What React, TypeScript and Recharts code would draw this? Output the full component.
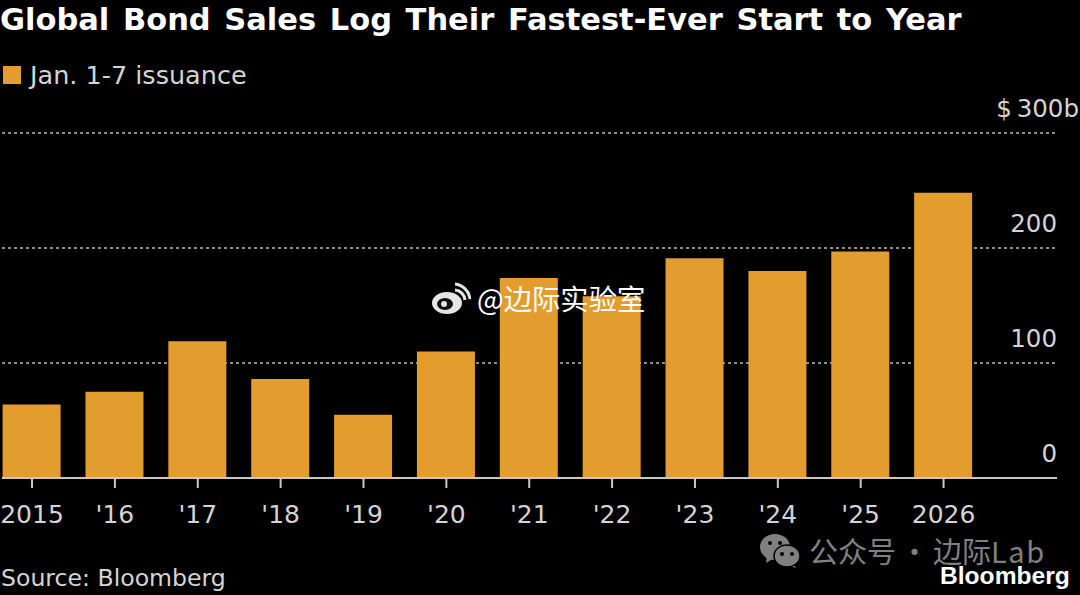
import React from 'react';
import { BarChart, Bar, XAxis, YAxis, CartesianGrid, Legend } from 'recharts';

const years = ['2015', "'16", "'17", "'18", "'19", "'20", "'21", "'22", "'23", "'24", "'25", '2026'];
const issuance = [64, 75, 119, 86, 55, 110, 174, 158, 191, 180, 197, 248];
const yTicks = [0, 100, 200, 300];

const chartData = years.map((year, i) => ({ year, issuance: issuance[i] }));

const FONT = '"DejaVu Sans", sans-serif';
const CJK = '"Noto Sans CJK SC", sans-serif';
const ORANGE = '#E39C2E';
const LABEL = '#d4d4d4';

// y labels sit above their gridline, the top one carries the unit
const YTick = ({ y, payload }: any) => {
  const top = payload.value === 300;
  return (
    <text x={top ? 1079 : 1057} y={y - 16} textAnchor="end" fill={LABEL} fontSize={24.5} fontFamily={FONT}>
      {top ? '$\u2009300b' : payload.value}
    </text>
  );
};

const LegendKey = ({ payload }: any) => (
  <div style={{ display: 'flex', alignItems: 'center', height: 34 }}>
    {(payload || []).map((item: any) => (
      <React.Fragment key={item.value}>
        <span style={{ width: 18, height: 18, background: item.color, marginRight: 9 }} />
        <span style={{ color: LABEL, fontSize: 25.5, fontFamily: FONT, whiteSpace: 'nowrap' }}>{item.value}</span>
      </React.Fragment>
    ))}
  </div>
);

const App: React.FC = () => {
  return (
    <div style={{ position: 'fixed', left: 0, top: 0, width: 1080, height: 595, background: '#000', overflow: 'hidden' }}>
      <div style={{ position: 'absolute', left: 0, top: 0, color: '#fff', fontFamily: FONT, fontWeight: 700, fontSize: 30.5, wordSpacing: 3, lineHeight: '40px', whiteSpace: 'nowrap' }}>
        Global Bond Sales Log Their Fastest-Ever Start to Year
      </div>

      <BarChart
        width={1080}
        height={595}
        data={chartData}
        margin={{ top: 99, right: 0, bottom: 0, left: 2 }}
        style={{ position: 'absolute', left: 0, top: 0 }}
      >
        <CartesianGrid vertical={false} stroke="#8c8c8c" strokeWidth={2} strokeDasharray="3 3" />
        <XAxis
          dataKey="year"
          height={117}
          padding={{ left: -11.4, right: 72 }}
          stroke="#c8c8c8"
          strokeWidth={2}
          tickSize={10}
          tickMargin={17}
          interval={0}
          tick={{ fill: LABEL, fontSize: 25, fontFamily: FONT }}
        />
        <YAxis orientation="right" width={23} domain={[0, 300]} ticks={yTicks} axisLine={false} tickLine={false} tick={YTick} />
        <Legend
          verticalAlign="top"
          align="left"
          wrapperStyle={{ left: 3, top: 58, width: 400, height: 34 }}
          content={LegendKey}
        />
        <Bar name="Jan. 1-7 issuance" dataKey="issuance" fill={ORANGE} barSize={58} isAnimationActive={false} />
      </BarChart>

      <div style={{ position: 'absolute', left: 1, top: 563, color: LABEL, fontFamily: FONT, fontSize: 23.6, lineHeight: '30px', whiteSpace: 'nowrap' }}>
        Source: Bloomberg
      </div>
      <div style={{ position: 'absolute', left: 940, top: 566, color: '#fff', fontFamily: '"Liberation Sans", sans-serif', fontWeight: 700, fontSize: 24.6, lineHeight: '20px', whiteSpace: 'nowrap' }}>
        Bloomberg
      </div>

      {/* weibo watermark */}
      <svg width={40} height={36} style={{ position: 'absolute', left: 431, top: 281 }}>
        <ellipse cx={16} cy={22} rx={15} ry={11} fill="#e6e6e6" />
        <ellipse cx={14} cy={23} rx={8} ry={6} fill="#111" />
        <circle cx={13} cy={23} r={3} fill="#e6e6e6" />
        <path d="M24 9 A11 11 0 0 1 34 19" stroke="#e6e6e6" strokeWidth={3} fill="none" />
        <path d="M24 3 A17 17 0 0 1 39 18" stroke="#e6e6e6" strokeWidth={3} fill="none" />
      </svg>
      <div style={{ position: 'absolute', left: 477, top: 280, color: '#fff', fontFamily: CJK, fontSize: 28.3, lineHeight: '36px', whiteSpace: 'nowrap' }}>
        @边际实验室
      </div>

      {/* wechat watermark */}
      <svg width={44} height={36} style={{ position: 'absolute', left: 759, top: 533 }}>
        <path d="M8 22 L7 30 L15 25 Z" fill="#808080" />
        <ellipse cx={16} cy={14} rx={15} ry={13} fill="#808080" />
        <path d="M34 30 L37 35 L28 32 Z" fill="#808080" />
        <ellipse cx={28} cy={23} rx={13} ry={11} fill="#808080" stroke="#000" strokeWidth={1.5} />
        <circle cx={11} cy={10} r={2} fill="#000" />
        <circle cx={21} cy={10} r={2} fill="#000" />
        <circle cx={23} cy={21} r={2} fill="#000" />
        <circle cx={33} cy={21} r={2} fill="#000" />
      </svg>
      <div style={{ position: 'absolute', left: 809, top: 536, color: '#808080', fontFamily: CJK, fontSize: 29, lineHeight: '29px', wordSpacing: -2.5, whiteSpace: 'nowrap' }}>
        公众号 · 边际<span style={{ letterSpacing: 1.6 }}>Lab</span>
      </div>
    </div>
  );
};

export default App;
